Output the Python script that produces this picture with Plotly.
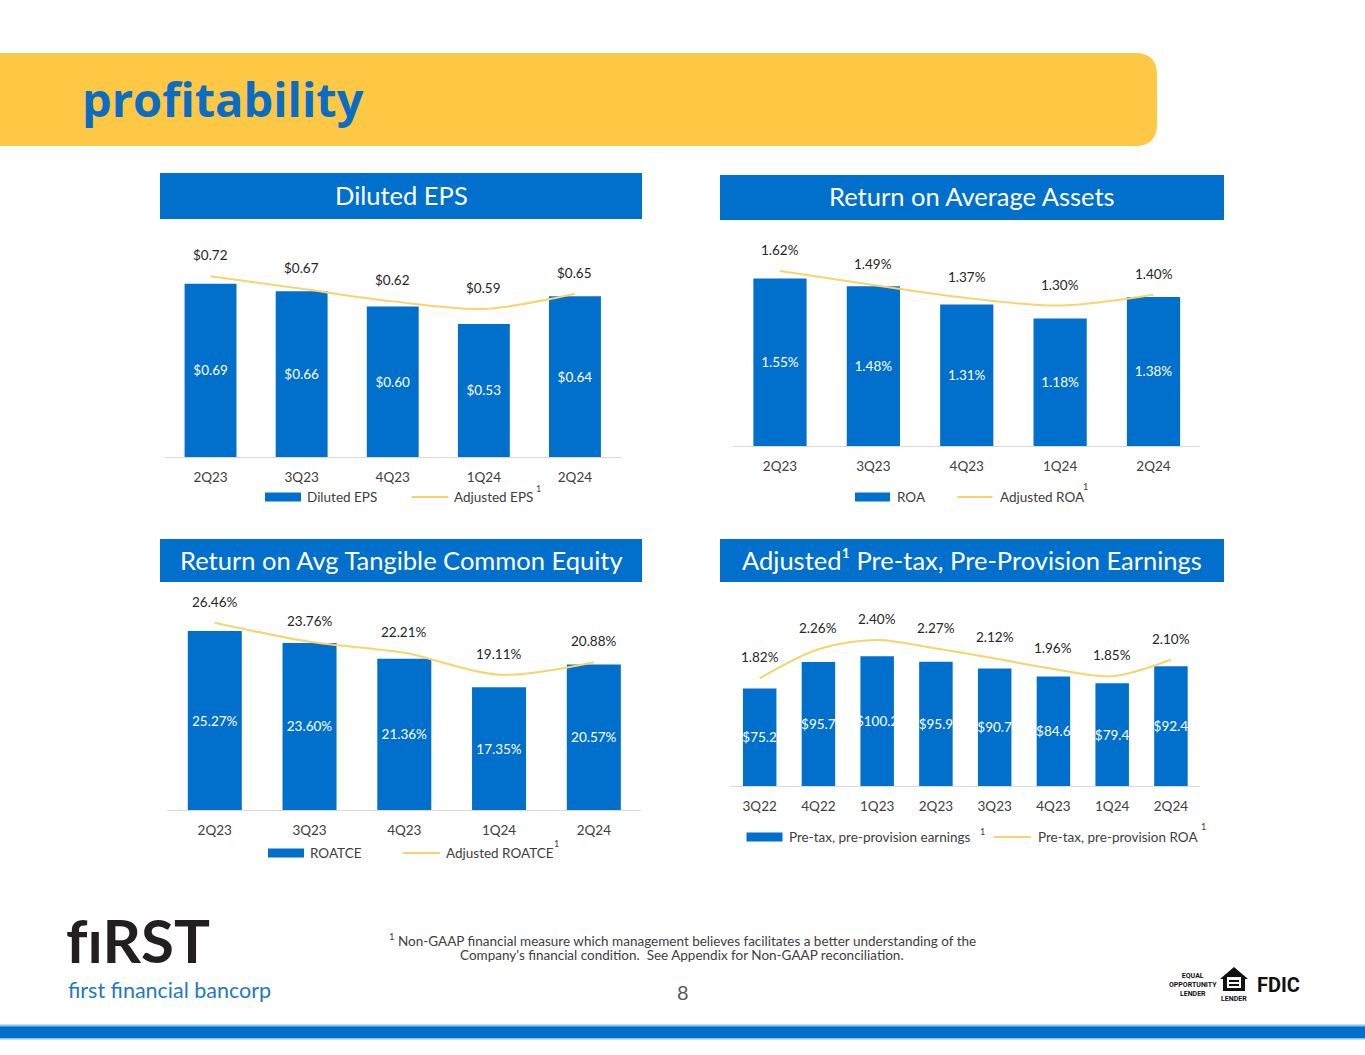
import plotly.graph_objects as go

W, H = 1365, 1055

# data
quarters5 = ["2Q23", "3Q23", "4Q23", "1Q24", "2Q24"]
quarters8 = ["3Q22", "4Q22", "1Q23", "2Q23", "3Q23", "4Q23", "1Q24", "2Q24"]

diluted_eps = [0.69, 0.66, 0.60, 0.53, 0.64]
adjusted_eps = [0.72, 0.67, 0.62, 0.59, 0.65]

roa = [1.55, 1.48, 1.31, 1.18, 1.38]
adjusted_roa = [1.62, 1.49, 1.37, 1.30, 1.40]

roatce = [25.27, 23.60, 21.36, 17.35, 20.57]
adjusted_roatce = [26.46, 23.76, 22.21, 19.11, 20.88]

ptpp_earnings = [75.2, 95.7, 100.2, 95.9, 90.7, 84.6, 79.4, 92.4]
ptpp_roa = [1.82, 2.26, 2.40, 2.27, 2.12, 1.96, 1.85, 2.10]

BLUE = "#0070CC"
GOLD = "#F8D46C"
BANNER = "#FEC844"
TEXT = "#404040"
DARK = "#262626"
FONT = "Lato"


def px(x):
    return x / W


def py(y):
    return 1 - y / H


fig = go.Figure()
shapes = []
annotations = []

panels = [
    dict(ax="", cats=quarters5, bars=diluted_eps, line=adjusted_eps,
         bfmt="$%{y:.2f}", lfmt="${:.2f}", xd=(165, 620.5), yd=(457, 230), yr=0.9044,
         box=(160, 173, 642, 219), title="Diluted EPS",
         leg=dict(y=497, rect=(265, 301), t1=("Diluted EPS", 305), line=(411.5, 448.5),
                  t2=("Adjusted EPS", 452), sups=[(538, 488)])),
    dict(ax="2", cats=quarters5, bars=roa, line=adjusted_roa,
         bfmt="%{y:.2f}%", lfmt="{:.2f}%", xd=(733.3, 1200.2), yd=(446, 230), yr=2.0,
         box=(720, 175, 1224, 220), title="Return on Average Assets",
         leg=dict(y=497, rect=(855, 890), t1=("ROA", 895), line=(957.5, 992.5),
                  t2=("Adjusted ROA", 998), sups=[(1085, 486)])),
    dict(ax="3", cats=quarters5, bars=roatce, line=adjusted_roatce,
         bfmt="%{y:.2f}%", lfmt="{:.2f}%", xd=(167.4, 641.2), yd=(810, 595), yr=30.37,
         box=(160, 539, 642, 582), title="Return on Avg Tangible Common Equity",
         leg=dict(y=853, rect=(268, 304), t1=("ROATCE", 308), line=(403, 440),
                  t2=("Adjusted ROATCE", 444), sups=[(556, 843)])),
    dict(ax="4", cats=quarters8, bars=ptpp_earnings, line=ptpp_roa,
         bfmt="$%{y:.1f}", lfmt="{:.2f}%", xd=(730.3, 1200.3), yd=(786, 600), yr=143.6,
         box=(720, 539, 1224, 582), title="Adjusted¹ Pre-tax, Pre-Provision Earnings",
         leg=dict(y=837, rect=(746.5, 782.5), t1=("Pre-tax, pre-provision earnings", 787),
                  line=(994, 1031), t2=("Pre-tax, pre-provision ROA", 1035.5),
                  sups=[(982, 831), (1203, 826)])),
]

for p in panels:
    a = p["ax"]
    xa, ya = "x" + a, "y" + a
    line_y = "y5" if a == "4" else ya
    fig.add_trace(go.Bar(
        x=p["cats"], y=p["bars"], xaxis=xa, yaxis=ya, width=0.57,
        marker=dict(color=BLUE, line=dict(width=0)),
        texttemplate=p["bfmt"], textposition="inside", insidetextanchor="middle",
        constraintext="none", textangle=0,
        insidetextfont=dict(family=FONT, size=13.5, color="white"),
        showlegend=False, hoverinfo="skip"))
    fig.add_trace(go.Scatter(
        x=p["cats"], y=p["line"], xaxis=xa, yaxis=line_y, mode="lines",
        line=dict(color=GOLD, width=2, shape="spline", smoothing=0.9),
        showlegend=False, hoverinfo="skip"))
    for c, v in zip(p["cats"], p["line"]):
        annotations.append(dict(x=c, y=v, xref=xa, yref=line_y, yshift=21,
                                text=p["lfmt"].format(v), showarrow=False,
                                font=dict(family=FONT, size=13.5, color=DARK)))

    n = len(p["cats"])
    fig.update_layout({
        "xaxis" + a: dict(domain=[px(p["xd"][0]), px(p["xd"][1])], anchor=ya,
                          type="category", range=[-0.5, n - 0.5],
                          showline=True, linecolor="#D9D9D9", linewidth=1.3,
                          showgrid=False, zeroline=False, ticks="",
                          ticklabelstandoff=8,
                          tickfont=dict(family=FONT, size=13.5, color=TEXT), fixedrange=True),
        "yaxis" + a: dict(domain=[py(p["yd"][0]), py(p["yd"][1])], anchor=xa,
                          range=[0, p["yr"]], visible=False, fixedrange=True),
    })

    # header box
    x0, y0, x1, y1 = p["box"]
    shapes.append(dict(type="rect", xref="paper", yref="paper",
                       x0=px(x0), x1=px(x1), y0=py(y1), y1=py(y0),
                       fillcolor=BLUE, line=dict(width=0), layer="below"))
    annotations.append(dict(x=px((x0 + x1) / 2), y=py((y0 + y1) / 2 - 1), xref="paper", yref="paper",
                            text=p["title"], showarrow=False, xanchor="center", yanchor="middle",
                            font=dict(family=FONT, size=25.5, color="white")))

    # hand-drawn legend
    lg = p["leg"]
    ly = lg["y"]
    shapes.append(dict(type="rect", xref="paper", yref="paper",
                       x0=px(lg["rect"][0]), x1=px(lg["rect"][1]),
                       y0=py(ly + 4.5), y1=py(ly - 4.5),
                       fillcolor=BLUE, line=dict(width=0)))
    shapes.append(dict(type="line", xref="paper", yref="paper",
                       x0=px(lg["line"][0]), x1=px(lg["line"][1]), y0=py(ly), y1=py(ly),
                       line=dict(color=GOLD, width=2)))
    for txt, lx in (lg["t1"], lg["t2"]):
        annotations.append(dict(x=px(lx), y=py(ly), xref="paper", yref="paper", text=txt,
                                showarrow=False, xanchor="left", yanchor="middle",
                                font=dict(family=FONT, size=13.5, color=TEXT)))
    for sx, sy in lg["sups"]:
        annotations.append(dict(x=px(sx), y=py(sy), xref="paper", yref="paper", text="1",
                                showarrow=False, xanchor="center", yanchor="middle",
                                font=dict(family=FONT, size=9, color=TEXT)))

# secondary axis for the pre-provision ROA line
fig.update_layout(yaxis5=dict(overlaying="y4", anchor="x4", range=[0.188, 3.006],
                              visible=False, fixedrange=True))

# yellow title banner with rounded right end
r = 22
bx, by0, by1 = 1157, 53, 146
banner = (f"M {px(0)},{py(by0)} L {px(bx - r)},{py(by0)} "
          f"Q {px(bx)},{py(by0)} {px(bx)},{py(by0 + r)} "
          f"L {px(bx)},{py(by1 - r)} Q {px(bx)},{py(by1)} {px(bx - r)},{py(by1)} "
          f"L {px(0)},{py(by1)} Z")
shapes.append(dict(type="path", xref="paper", yref="paper", path=banner,
                   fillcolor=BANNER, line=dict(width=0), layer="below"))
annotations.append(dict(x=px(80), y=py(99), xref="paper", yref="paper", text="<b>profitability</b>",
                        showarrow=False, xanchor="left", yanchor="middle",
                        font=dict(family="Open Sans", size=47, color="#0B6CC4")))

# footnote and page number
annotations.append(dict(x=px(682), y=py(940), xref="paper", yref="paper",
                        text="<sup>1</sup> Non-GAAP financial measure which management believes facilitates a better understanding of the",
                        showarrow=False, xanchor="center", yanchor="middle",
                        font=dict(family=FONT, size=13.5, color=TEXT)))
annotations.append(dict(x=px(682), y=py(955), xref="paper", yref="paper",
                        text="Company's financial condition.  See Appendix for Non-GAAP reconciliation.",
                        showarrow=False, xanchor="center", yanchor="middle",
                        font=dict(family=FONT, size=13.5, color=TEXT)))
annotations.append(dict(x=px(683), y=py(992), xref="paper", yref="paper", text="8",
                        showarrow=False, xanchor="center", yanchor="middle",
                        font=dict(family=FONT, size=20, color="#595959")))

# company logo
annotations.append(dict(x=px(64), y=py(940), xref="paper", yref="paper",
                        text="<b>f\u200c\u0131RST</b>",
                        showarrow=False, xanchor="left", yanchor="middle",
                        font=dict(family=FONT, size=60, color="#231F20")))
annotations.append(dict(x=px(66), y=py(990), xref="paper", yref="paper", text="first financial bancorp",
                        showarrow=False, xanchor="left", yanchor="middle",
                        font=dict(family=FONT, size=21.5, color="#2479BD")))

# regulatory marks
annotations.append(dict(x=px(1193), y=py(985), xref="paper", yref="paper",
                        text="<b>EQUAL<br>OPPORTUNITY<br>LENDER</b>",
                        showarrow=False, xanchor="center", yanchor="middle",
                        font=dict(family="Roboto", size=7, color="#111111")))
house = (f"M {px(1220)},{py(979)} L {px(1234)},{py(967)} L {px(1248)},{py(979)} "
         f"L {px(1245)},{py(979)} L {px(1245)},{py(991)} L {px(1223)},{py(991)} "
         f"L {px(1223)},{py(979)} Z")
shapes.append(dict(type="path", xref="paper", yref="paper", path=house,
                   fillcolor="#111111", line=dict(width=0)))
shapes.append(dict(type="rect", xref="paper", yref="paper", x0=px(1227), x1=px(1241),
                   y0=py(988), y1=py(977), fillcolor="white", line=dict(width=0)))
for yy in (980, 984):
    shapes.append(dict(type="rect", xref="paper", yref="paper", x0=px(1229), x1=px(1239),
                       y0=py(yy + 2), y1=py(yy), fillcolor="#111111", line=dict(width=0)))
annotations.append(dict(x=px(1234), y=py(999), xref="paper", yref="paper", text="<b>LENDER</b>",
                        showarrow=False, xanchor="center", yanchor="middle",
                        font=dict(family="Roboto", size=7, color="#111111")))
annotations.append(dict(x=px(1278), y=py(985), xref="paper", yref="paper", text="<b>FDIC</b>",
                        showarrow=False, xanchor="center", yanchor="middle",
                        font=dict(family="Roboto", size=20, color="#111111")))

# bottom stripe
shapes.append(dict(type="rect", xref="paper", yref="paper", x0=0, x1=1,
                   y0=py(1039.5), y1=py(1024.5), fillcolor="#8EC3EE", line=dict(width=0)))
shapes.append(dict(type="rect", xref="paper", yref="paper", x0=0, x1=1,
                   y0=py(1038), y1=py(1026.5), fillcolor=BLUE, line=dict(width=0)))

fig.update_layout(
    width=W, height=H,
    margin=dict(l=0, r=0, t=0, b=0),
    paper_bgcolor="white", plot_bgcolor="rgba(0,0,0,0)",
    shapes=shapes, annotations=annotations,
    showlegend=False,
    font=dict(family=FONT, color=TEXT),
)

fig.write_html("out.html", config={"displayModeBar": False},
               post_script="document.body.style.margin='0';")
